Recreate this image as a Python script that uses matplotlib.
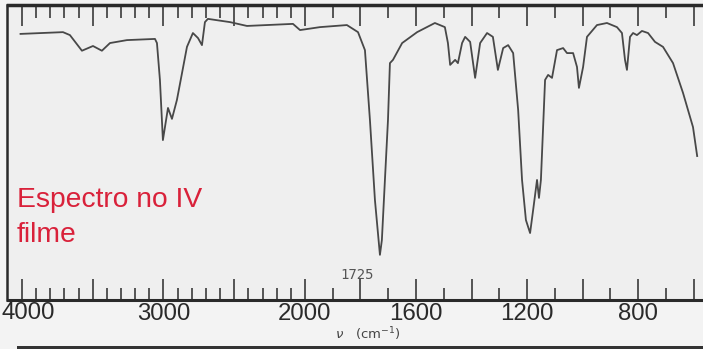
import numpy as np
import matplotlib.pyplot as plt
from matplotlib.ticker import FixedLocator, FixedFormatter
from matplotlib.patches import Rectangle

# spectrum: wavenumber (cm-1) and transmittance (%)
wavenumber = [4010, 3710, 3661, 3576, 3498, 3435, 3378, 3258, 3060, 3046,
              3025, 3004, 2968, 2940, 2905, 2869, 2834, 2792, 2756, 2728,
              2707, 2686, 2530, 2410, 2085, 2035, 1946, 1849, 1809, 1784,
              1766, 1748, 1730, 1723, 1712, 1701, 1694, 1683, 1650, 1596,
              1532, 1496, 1485, 1477, 1459, 1449, 1434, 1423, 1405, 1387,
              1369, 1344, 1323, 1305, 1286, 1268, 1250, 1232, 1218, 1204,
              1189, 1178, 1164, 1157, 1150, 1135, 1124, 1110, 1092, 1070,
              1056, 1034, 1020, 1013, 998, 984, 948, 912, 876, 858,
              847, 840, 829, 818, 804, 786, 764, 739, 710, 674,
              638, 602, 587]
transmittance = [90.2, 90.8, 89.8, 84.5, 86.1, 84.5, 87.1, 88.1, 88.5, 87.1,
                 74.6, 54.2, 65.1, 61.4, 67.8, 76.9, 85.8, 90.5, 88.8, 86.4,
                 94.2, 95.3, 94.2, 92.9, 93.6, 91.5, 92.5, 93.2, 90.8, 84.7,
                 61.0, 33.9, 15.3, 20.3, 40.7, 61.0, 80.3, 81.4, 87.1, 90.8,
                 93.9, 92.5, 87.1, 79.7, 81.4, 80.3, 87.1, 89.2, 87.5, 75.3,
                 87.1, 90.5, 89.2, 78.0, 85.4, 86.4, 83.7, 64.4, 40.7, 27.1,
                 22.7, 30.5, 40.7, 34.6, 40.7, 74.6, 76.3, 75.3, 84.7, 85.4,
                 83.7, 83.7, 79.0, 71.9, 79.0, 89.2, 93.2, 93.9, 92.5, 90.5,
                 81.4, 78.0, 89.2, 90.5, 89.8, 91.2, 90.5, 87.5, 85.8, 80.3,
                 70.2, 58.6, 48.8]

tick_labels = ['4000', '3000', '2000', '1600', '1200', '800']
tick_values = [4000, 3000, 2000, 1600, 1200, 800]
peak_label = '1725'

# IR charts: scale doubles below 2000 cm-1
def fwd(w):
    w = np.asarray(w, dtype=float)
    return np.where(w >= 2000, (w - 2000) * 0.1415, (w - 2000) * 0.2775)

def inv(p):
    p = np.asarray(p, dtype=float)
    return np.where(p >= 0, 2000 + p / 0.1415, 2000 + p / 0.2775)

W, H = 703, 349
fig = plt.figure(figsize=(W / 100, H / 100), dpi=100, facecolor='#f3f3f3')
ax = fig.add_axes([7.5 / W, 1 - 300 / H, 1 - 7.5 / W, 295 / H])
ax.set_facecolor('#efefef')

ax.plot(wavenumber, transmittance, color='#484848', lw=1.3)

ax.set_xscale('function', functions=(fwd, inv))
ax.set_xlim(4102, 566)
ax.set_ylim(0, 100)

major = [4000, 3500, 3000, 2500, 2000, 1800, 1600, 1400, 1200, 1000, 800, 600]
minor = list(range(4000, 2000, -100)) + list(range(1900, 500, -200))
ax.xaxis.set_major_locator(FixedLocator(major))
ax.xaxis.set_minor_locator(FixedLocator(minor))
# 4000 sits half off the scan, placed by hand below
ax.xaxis.set_major_formatter(FixedFormatter(
    [tick_labels[tick_values.index(m)] if m in tick_values and m != 4000 else ''
     for m in major]))
ax.tick_params(axis='x', which='both', direction='in', top=True, bottom=True,
               color='#3a3a3a', width=1.2)
ax.tick_params(axis='x', which='major', length=15, pad=2,
               labelsize=17.3, labelcolor='#2a2a2a')
ax.tick_params(axis='x', which='minor', length=9)
for lab in ax.get_xticklabels():
    lab.set_family('Liberation Sans')
ax.set_yticks([])

fig.text(28 / W, 1 - 313 / H, tick_labels[0], ha='center', va='center',
         fontsize=17.3, family='Liberation Sans', color='#2a2a2a')

ax.spines['right'].set_visible(False)
ax.spines['top'].set_linewidth(2.5)
ax.spines['left'].set_linewidth(1.8)
ax.spines['bottom'].set_linewidth(2.2)
for s in ['top', 'left', 'bottom']:
    ax.spines[s].set_color('#2a2a2a')

ax.text(1813, 8.5, peak_label, ha='center', va='center', fontsize=10,
        family='DejaVu Sans Mono', color='#555555')

fig.text(17 / W, 1 - 207 / H, 'Espectro no IV', ha='left', va='baseline',
         fontsize=20.3, family='Liberation Sans', color='#d9213a')
fig.text(17 / W, 1 - 241.5 / H, 'filme', ha='left', va='baseline',
         fontsize=20.3, family='Liberation Sans', color='#d9213a')

fig.text(368 / W, 1 - 334 / H, r'$\nu$   (cm$^{-1}$)', ha='center', va='center',
         fontsize=9.5, color='#444444')

# edge of the next page at the bottom of the scan
fig.add_artist(Rectangle((17 / W, 0), 1, 3.5 / H, transform=fig.transFigure,
                         facecolor='#333333', edgecolor='none'))

fig.savefig('out.png', dpi=100, facecolor=fig.get_facecolor())
